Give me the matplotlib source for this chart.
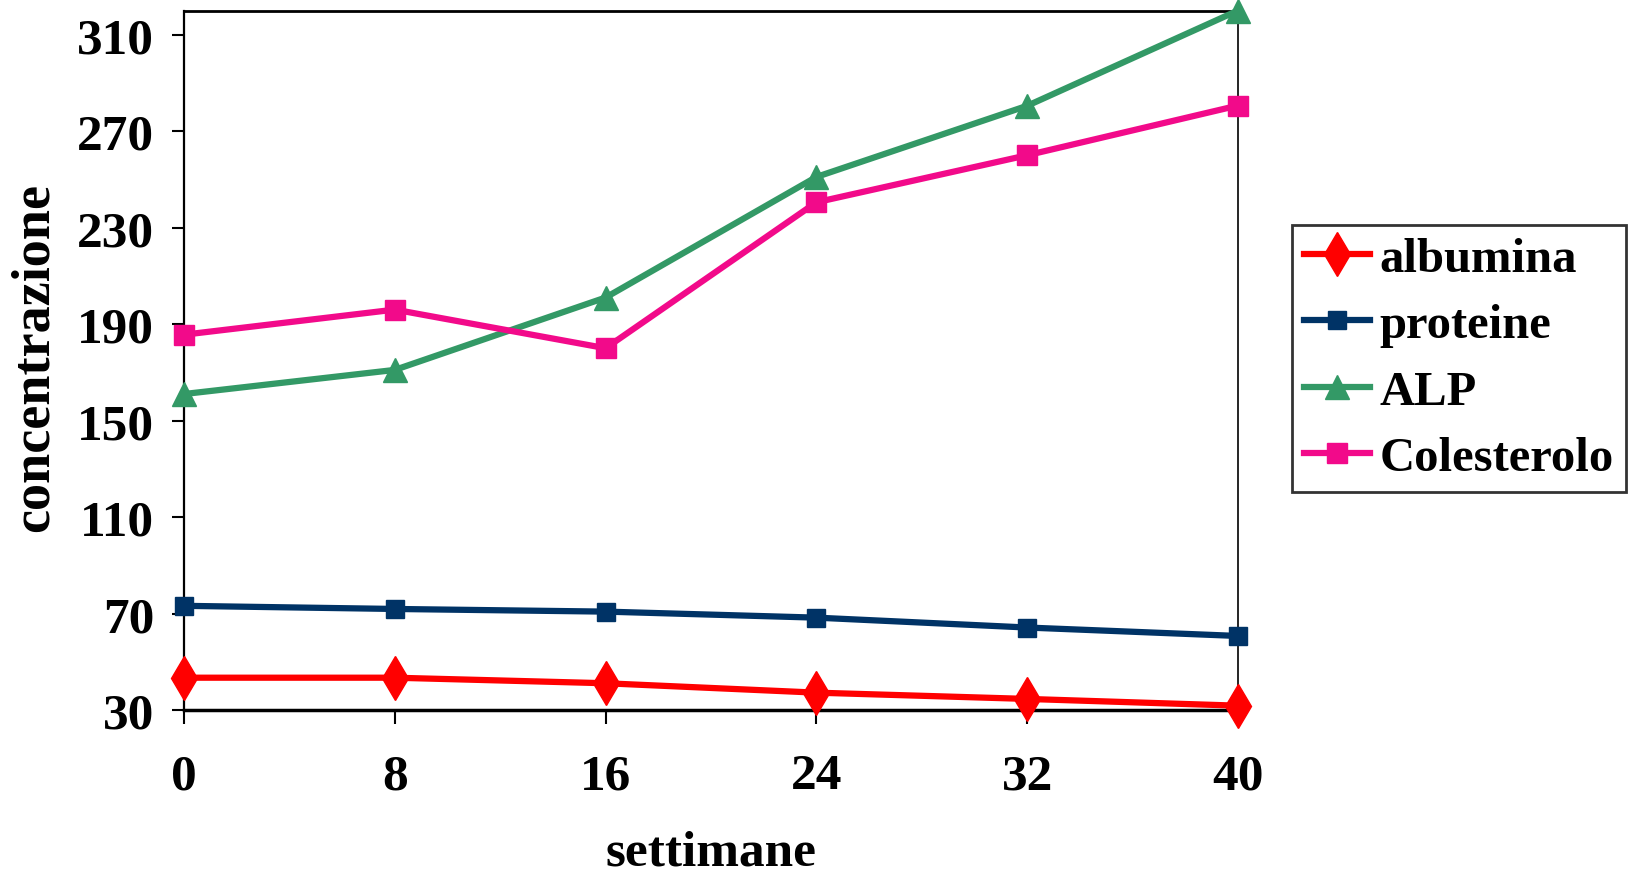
import matplotlib
matplotlib.use("Agg")
import matplotlib.pyplot as plt

# settimane di osservazione
settimane = [0, 8, 16, 24, 32, 40]
albumina = [43.4, 43.4, 41.1, 37.2, 34.6, 31.8]
proteine = [73.2, 71.9, 70.8, 68.3, 64.2, 60.7]
alp = [161, 171, 201, 251, 280.5, 320]
colesterolo = [185.6, 196, 180, 240.5, 260, 280.6]
yticks = [30, 70, 110, 150, 190, 230, 270, 310]

plt.rcParams['font.family'] = ['Liberation Serif', 'DejaVu Serif']
plt.rcParams['font.weight'] = 'bold'

fig = plt.figure(figsize=(16.38, 8.79), dpi=100)
ax = fig.add_axes([0.1123, 0.1911, 0.6435, 0.7958])

ax.plot(settimane, albumina, color='#FF0000', lw=4.5, marker='d', ms=22,
        label='albumina', clip_on=False, zorder=3)
ax.plot(settimane, proteine, color='#003366', lw=4.5, marker='s', ms=13,
        label='proteine', clip_on=False, zorder=3)
ax.plot(settimane, alp, color='#339966', lw=4.5, marker='^', ms=17,
        label='ALP', clip_on=False, zorder=3)
ax.plot(settimane, colesterolo, color='#F20A8A', lw=4.5, marker='s', ms=15,
        label='Colesterolo', clip_on=False, zorder=3)

ax.set_xlim(0, 40)
ax.set_ylim(30, 320)
ax.set_xticks(settimane)
ax.set_yticks(yticks)
ax.tick_params(axis='both', labelsize=37, direction='out', width=1.5)
ax.tick_params(axis='y', length=8.5, pad=13)
ax.tick_params(axis='x', length=10, pad=21)

ax.spines['bottom'].set_linewidth(2.5)
ax.spines['top'].set_linewidth(2)
ax.spines['left'].set_linewidth(1.6)
ax.spines['right'].set_linewidth(1.2)

ax.set_xlabel('settimane', fontsize=37, fontweight='bold', labelpad=22)
ax.set_ylabel('concentrazione', fontsize=39, fontweight='bold')
ax.yaxis.set_label_coords(-0.118, 0.506)

leg = ax.legend(loc='center left', bbox_to_anchor=(1292 / 1638, 1 - 359.5 / 879),
                bbox_transform=fig.transFigure, fontsize=35, frameon=True,
                fancybox=False, edgecolor='black', handlelength=1.35,
                handletextpad=0.2, labelspacing=0.46, borderpad=0.25,
                borderaxespad=0)
leg.get_frame().set_linewidth(2)

fig.savefig('out.png', dpi=100)
